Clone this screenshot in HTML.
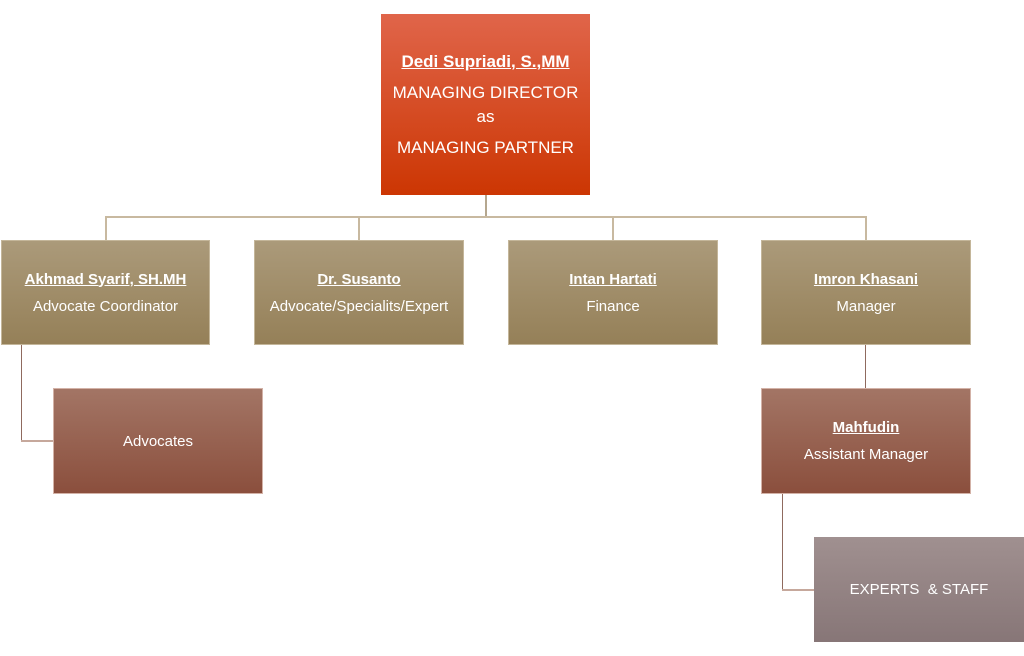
<!DOCTYPE html>
<html><head><style>
body{margin:0;width:1024px;height:656px;background:#fff;position:relative;font-family:"Liberation Sans",sans-serif;overflow:hidden}
.b{position:absolute;color:#fff;text-align:center;box-sizing:border-box;display:flex;flex-direction:column;justify-content:center;font-size:15px;line-height:27px}
.g{background:linear-gradient(#ab9a7a,#958058);border:1px solid #c4b69a;padding-bottom:0}
.r{background:linear-gradient(#a37565,#8b4f3d);border:1px solid #d3b2a7}
.p{background:linear-gradient(#a09090,#877677)}
.n{font-weight:bold;text-decoration:underline}
.l{position:absolute;background:#c8b9a0}
</style></head><body>
<div class="b" style="left:381px;top:14px;width:209px;height:181px;background:linear-gradient(#e0654a,#cc3603);font-size:17px;line-height:26px;padding-bottom:0">
<div class="n">Dedi Supriadi, S.,MM</div><div style="margin-top:5px">MANAGING DIRECTOR</div><div style="margin-top:-2px">as</div><div style="margin-top:5px">MANAGING PARTNER</div></div>
<div class="l" style="left:485px;top:195px;width:2px;height:23px;background:#b5a78f"></div>
<div class="l" style="left:105px;top:216px;width:762px;height:2px"></div>
<div class="l" style="left:105px;top:216px;width:2px;height:24px"></div>
<div class="l" style="left:358px;top:216px;width:2px;height:24px"></div>
<div class="l" style="left:612px;top:216px;width:2px;height:24px"></div>
<div class="l" style="left:865px;top:216px;width:2px;height:24px"></div>
<div class="b g" style="left:1px;top:240px;width:209px;height:105px"><div class="n">Akhmad Syarif, SH.MH</div><div>Advocate Coordinator</div></div>
<div class="b g" style="left:254px;top:240px;width:210px;height:105px"><div class="n">Dr. Susanto</div><div>Advocate/Specialits/Expert</div></div>
<div class="b g" style="left:508px;top:240px;width:210px;height:105px"><div class="n">Intan Hartati</div><div>Finance</div></div>
<div class="b g" style="left:761px;top:240px;width:210px;height:105px"><div class="n">Imron Khasani</div><div>Manager</div></div>
<div class="l" style="left:21px;top:345px;width:1px;height:97px;background:#8f6a5e"></div>
<div class="l" style="left:21px;top:440px;width:32px;height:2px;background:#c6a89c"></div>
<div class="b r" style="left:53px;top:388px;width:210px;height:106px">Advocates</div>
<div class="l" style="left:865px;top:345px;width:1px;height:43px;background:#8f6a5e"></div>
<div class="b r" style="left:761px;top:388px;width:210px;height:106px"><div class="n">Mahfudin</div><div>Assistant Manager</div></div>
<div class="l" style="left:782px;top:494px;width:1px;height:96px;background:#8f6a5e"></div>
<div class="l" style="left:782px;top:589px;width:32px;height:2px;background:#c6a89c"></div>
<div class="b p" style="left:814px;top:537px;width:210px;height:105px">EXPERTS &nbsp;&amp; STAFF</div>
</body></html>
